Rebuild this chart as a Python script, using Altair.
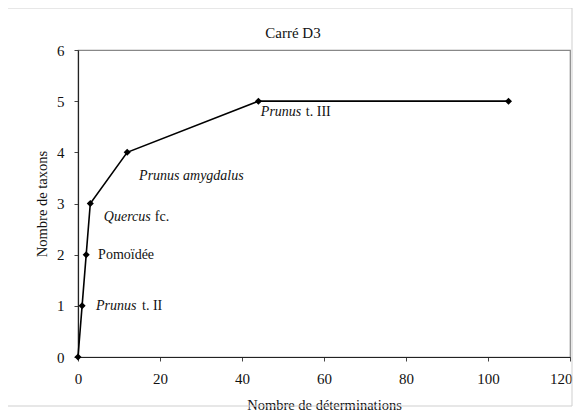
import altair as alt
import pandas as pd

# Data
determinations = [0, 1, 2, 3, 12, 44, 105]
taxons = [0, 1, 2, 3, 4, 5, 5]

# Annotations (italic part + regular part)
ann_italic = ["Prunus", "", "Quercus", "Prunus amygdalus", "Prunus"]
ann_regular = ["t. II", "Pomoïdée", "fc.", "", "t. III"]
ann_x = [4.4, 4.9, 6.3, 14.9, 44.6]
ann_y = [1.0, 2.0, 2.74, 3.54, 4.79]
ann_reg_dx = [46, 0, 51, 0, 45]

TITLE = "Carré D3"
FONT = "Liberation Serif"

df = pd.DataFrame({"x": determinations, "y": taxons})
ann = pd.DataFrame({"x": ann_x, "y": ann_y, "it": ann_italic, "reg": ann_regular})

xscale = alt.Scale(domain=[0, 120], nice=False, zero=False)
yscale = alt.Scale(domain=[0, 6], nice=False)

base = alt.Chart(df)

line = base.mark_line(color="black", strokeWidth=1.6).encode(
    x=alt.X("x:Q", scale=xscale, title="Nombre de déterminations",
            axis=alt.Axis(values=[0, 20, 40, 60, 80, 100, 120], grid=False, format="d",
                          labelFlush=False,
                          labelAlign={"condition": {"test": "datum.value == 120", "value": "right"},
                                      "value": "center"},
                          labelOffset={"condition": {"test": "datum.value == 120", "value": 2},
                                       "value": 0})),
    y=alt.Y("y:Q", scale=yscale, title="Nombre de taxons",
            axis=alt.Axis(values=[0, 1, 2, 3, 4, 5, 6], grid=False, format="d")),
)
points = base.mark_point(shape="diamond", filled=True, color="black", size=50, opacity=1).encode(
    x=alt.X("x:Q", scale=xscale), y=alt.Y("y:Q", scale=yscale)
)

t_it = alt.Chart(ann).mark_text(font=FONT, fontSize=14, fontStyle="italic", align="left",
                                baseline="middle", color="#111").encode(
    x=alt.X("x:Q", scale=xscale), y=alt.Y("y:Q", scale=yscale), text="it:N"
)

reg_layers = []
for i in range(len(ann_x)):
    if ann_regular[i]:
        reg_layers.append(
            alt.Chart(ann.iloc[[i]]).mark_text(font=FONT, fontSize=14, align="left", baseline="middle",
                                              color="#111", dx=ann_reg_dx[i]).encode(
                x=alt.X("x:Q", scale=xscale), y=alt.Y("y:Q", scale=yscale), text="reg:N"
            )
        )

title = alt.Chart(pd.DataFrame({"t": [TITLE]})).mark_text(
    font=FONT, fontSize=15, color="#111", align="center", baseline="middle"
).encode(x=alt.value(215), y=alt.value(-17), text="t:N")

frame = alt.Chart(pd.DataFrame({"a": [0]})).mark_rect(fill=None, stroke="#cfcfcf", strokeWidth=1, clip=False).encode(
    x=alt.value(-73), x2=alt.value(494), y=alt.value(-42), y2=alt.value(356)
)

chart = alt.layer(frame, line, points, t_it, *reg_layers, title).properties(
    width=492, height=307,
    autosize=alt.AutoSizeParams(type="none"),
    padding={"left": 70, "top": 42, "right": 3, "bottom": 54},
).configure_view(
    stroke="#888888", strokeWidth=1.2
).configure_axis(
    labelFont=FONT, titleFont=FONT, labelFontSize=15, titleFontSize=14.5,
    titleFontWeight="normal", labelColor="#111", titleColor="#111",
    domainColor="#222", domainWidth=1.2, tickColor="#444", tickSize=4,
).configure_axisX(
    labelPadding=10, titlePadding=12
).configure_axisY(
    labelPadding=10, titlePadding=7
)

chart.save("out.html", embed_options={"renderer": "svg", "actions": False})
